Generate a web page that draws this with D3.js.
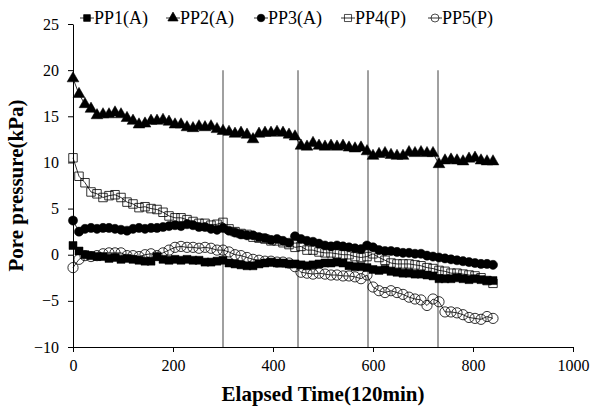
<!DOCTYPE html>
<html>
<head>
<meta charset="utf-8">
<script src="https://cdn.jsdelivr.net/npm/d3@7"></script>
<style>
  body { margin: 0; background: #fff; }
  svg { display: block; font-family: "Liberation Serif", "Times New Roman", serif; }
</style>
</head>
<body>
<svg id="chart"></svg>
<script>
// time axis: readings every 12 units, 0..840
const times = d3.range(0, 841, 12);

const pp1 = [1.0, 0.4, 0.0, -0.1, -0.2, -0.2, -0.4, -0.3, -0.5, -0.4, -0.5, -0.6, -0.7, -0.7, -0.2, -0.5, -0.6, -0.5, -0.6, -0.5,
  -0.6, -0.6, -0.8, -0.8, -0.7, -0.6, -0.9, -1.0, -1.1, -1.2, -1.2, -1.0, -0.9, -0.8, -0.9, -0.9, -1.0, -1.0, -1.1, -1.2,
  -1.1, -1.0, -0.9, -0.9, -0.8, -0.9, -1.2, -1.3, -1.3, -1.4, -1.6, -1.7, -1.6, -1.8, -1.9, -2.0, -2.0, -2.1, -2.1, -2.2,
  -2.3, -2.6, -2.6, -2.6, -2.5, -2.6, -2.7, -2.6, -2.7, -2.8, -2.8];
const pp2 = [19.1, 17.4, 16.3, 15.8, 15.1, 15.2, 15.2, 15.4, 15.2, 14.8, 14.5, 14.1, 14.2, 14.5, 14.5, 14.6, 14.4, 14.1, 14.1, 13.8,
  13.7, 13.9, 13.8, 13.9, 13.6, 13.4, 13.3, 13.1, 13.2, 13.0, 12.5, 13.1, 13.2, 13.2, 13.3, 13.2, 13.0, 12.8, 11.8, 11.7,
  12.1, 11.8, 11.7, 11.8, 11.7, 11.8, 11.6, 11.5, 11.6, 11.2, 10.7, 10.9, 11.0, 10.8, 10.7, 10.7, 11.1, 11.0, 11.1, 11.0,
  11.0, 9.8, 10.2, 10.3, 10.2, 10.1, 10.4, 10.5, 10.2, 10.1, 10.1];
const pp3 = [3.7, 2.5, 2.8, 2.9, 2.8, 2.9, 2.9, 2.8, 2.7, 2.6, 2.8, 2.9, 2.8, 2.9, 2.9, 3.0, 3.1, 3.2, 3.1, 3.3,
  3.2, 3.0, 3.0, 2.8, 2.7, 2.9, 2.6, 2.4, 2.2, 2.1, 2.1, 1.9, 1.8, 1.6, 1.7, 1.5, 1.3, 2.0, 1.7, 1.5,
  1.4, 1.2, 1.0, 0.9, 1.0, 0.9, 0.8, 0.7, 0.6, 1.0, 0.8, 0.5, 0.4, 0.4, 0.3, 0.2, 0.2, 0.1, 0.1, -0.1,
  -0.2, -0.3, -0.4, -0.5, -0.6, -0.7, -0.8, -0.9, -1.0, -1.0, -1.1];
const pp4 = [10.5, 8.5, 7.8, 6.8, 6.6, 6.2, 6.4, 6.5, 6.2, 5.7, 5.5, 5.1, 5.2, 5.0, 4.9, 4.6, 4.2, 4.0, 4.0, 3.8,
  3.6, 3.4, 3.4, 3.2, 3.3, 3.5, 2.8, 2.5, 2.3, 2.2, 1.9, 1.8, 1.7, 1.5, 1.5, 1.3, 1.1, 0.8, 0.9, 0.5,
  0.5, 0.3, 0.2, 0.2, 0.1, 0.0, 0.0, -0.2, -0.3, -0.2, 0.1, -0.3, -0.6, -0.9, -1.0, -1.0, -1.0, -1.1, -1.2, -1.4,
  -1.5, -1.7, -1.8, -2.0, -2.0, -2.1, -2.2, -2.3, -2.5, -2.8, -3.1];
const pp5 = [-1.4, -0.5, -0.1, -0.2, -0.1, 0.1, 0.2, 0.2, 0.2, -0.1, -0.1, -0.2, 0.0, 0.1, -0.1, 0.2, 0.5, 0.8, 0.9, 0.8,
  0.8, 0.7, 0.8, 0.7, 0.5, 0.5, 0.3, 0.0, -0.1, -0.3, -0.5, -0.6, -0.7, -0.7, -0.8, -0.8, -0.9, -1.3, -1.9, -2.0,
  -2.1, -2.0, -2.1, -2.2, -2.2, -2.3, -2.3, -2.4, -2.6, -2.2, -3.5, -3.9, -4.1, -3.9, -4.1, -4.3, -4.6, -4.8, -4.9, -5.5,
  -4.8, -5.1, -6.2, -6.2, -6.3, -6.5, -6.8, -6.9, -7.0, -6.7, -6.9];

const seriesNames = ["PP1(A)", "PP2(A)", "PP3(A)", "PP4(P)", "PP5(P)"];
const seriesValues = [pp1, pp2, pp3, pp4, pp5];
const markerShapes = ["square", "triangle", "circle", "square", "circle"];
const markerFilled = [true, true, true, false, false];

// stage boundaries (vertical lines)
const stageTimes = [300, 450, 590, 730];

const xTicks = [0, 200, 400, 600, 800, 1000];
const yTicks = [-10, -5, 0, 5, 10, 15, 20, 25];

const W = 603, H = 408;
const margin = { top: 24, right: 30, bottom: 61, left: 73 };

const svg = d3.select("#chart").attr("width", W).attr("height", H);

const x = d3.scaleLinear().domain([0, 1000]).range([margin.left, W - margin.right]);
const y = d3.scaleLinear().domain([-10, 25]).range([H - margin.bottom, margin.top]);

// vertical stage lines
svg.append("g")
  .selectAll("line")
  .data(stageTimes)
  .join("line")
  .attr("x1", d => x(d)).attr("x2", d => x(d))
  .attr("y1", y(20)).attr("y2", y(-10))
  .attr("stroke", "#808080")
  .attr("stroke-width", 1.5);

// axes
const xAxis = svg.append("g")
  .attr("transform", "translate(0," + y(-10) + ")")
  .call(d3.axisBottom(x).tickValues(xTicks).tickFormat(d3.format("d")).tickSize(5).tickSizeOuter(0).tickPadding(8));
const yAxis = svg.append("g")
  .attr("transform", "translate(" + x(0) + ",0)")
  .call(d3.axisLeft(y).tickValues(yTicks).tickFormat(d3.format("d")).tickSize(5).tickSizeOuter(0).tickPadding(9));

[xAxis, yAxis].forEach(g => {
  g.select(".domain").attr("stroke", "#000").attr("stroke-width", 1);
  g.selectAll(".tick line").attr("stroke", "#000");
  g.selectAll(".tick text")
    .attr("fill", "#000")
    .style("font-family", "'Liberation Serif', serif")
    .style("font-size", "16px");
});

const symbolType = { square: d3.symbolSquare, triangle: d3.symbolTriangle, circle: d3.symbolCircle };
const symbolSize = { square: 64, triangle: 60, circle: 66 };
const openSize = { square: 72, circle: 82 };

function symbolPath(i) {
  const shape = markerShapes[i];
  const size = markerFilled[i] ? symbolSize[shape] : openSize[shape];
  return d3.symbol().type(symbolType[shape]).size(size)();
}

const line = d3.line()
  .x((d, i) => x(times[i]))
  .y(d => y(d));

seriesValues.forEach((vals, i) => {
  const g = svg.append("g");
  g.append("path")
    .datum(vals)
    .attr("fill", "none")
    .attr("stroke", "#000")
    .attr("stroke-width", 0.8)
    .attr("d", line);
  g.selectAll("path.m")
    .data(vals)
    .join("path")
    .attr("class", "m")
    .attr("transform", (d, j) => "translate(" + x(times[j]) + "," + y(d) + ")")
    .attr("d", symbolPath(i))
    .attr("fill", markerFilled[i] ? "#000" : "none")
    .attr("stroke", "#000")
    .attr("stroke-width", markerFilled[i] ? 0.5 : 0.8);
});

// legend
const legendX = [80, 166, 254, 341, 428];
const legend = svg.append("g").attr("transform", "translate(0,18)");
seriesNames.forEach((name, i) => {
  const lg = legend.append("g").attr("transform", "translate(" + legendX[i] + ",0)");
  lg.append("line").attr("x1", 0).attr("x2", 14).attr("y1", 0).attr("y2", 0)
    .attr("stroke", "#000").attr("stroke-width", 0.8);
  const shape = markerShapes[i];
  lg.append("path")
    .attr("transform", "translate(7,0)")
    .attr("d", d3.symbol().type(symbolType[shape]).size(markerFilled[i] ? 45 : 50)())
    .attr("fill", markerFilled[i] ? "#000" : "none")
    .attr("stroke", "#000").attr("stroke-width", 0.7);
  lg.append("text")
    .attr("x", 14).attr("y", 6)
    .style("font-size", "18px")
    .text(name);
});

// axis titles
svg.append("text")
  .attr("x", (x(0) + x(1000)) / 2)
  .attr("y", 401)
  .attr("text-anchor", "middle")
  .style("font-size", "21px")
  .style("font-weight", "bold")
  .text("Elapsed Time(120min)");

svg.append("text")
  .attr("transform", "translate(23," + ((y(25) + y(-10)) / 2) + ") rotate(-90)")
  .attr("text-anchor", "middle")
  .style("font-size", "21px")
  .style("font-weight", "bold")
  .text("Pore pressure(kPa)");
</script>
</body>
</html>
